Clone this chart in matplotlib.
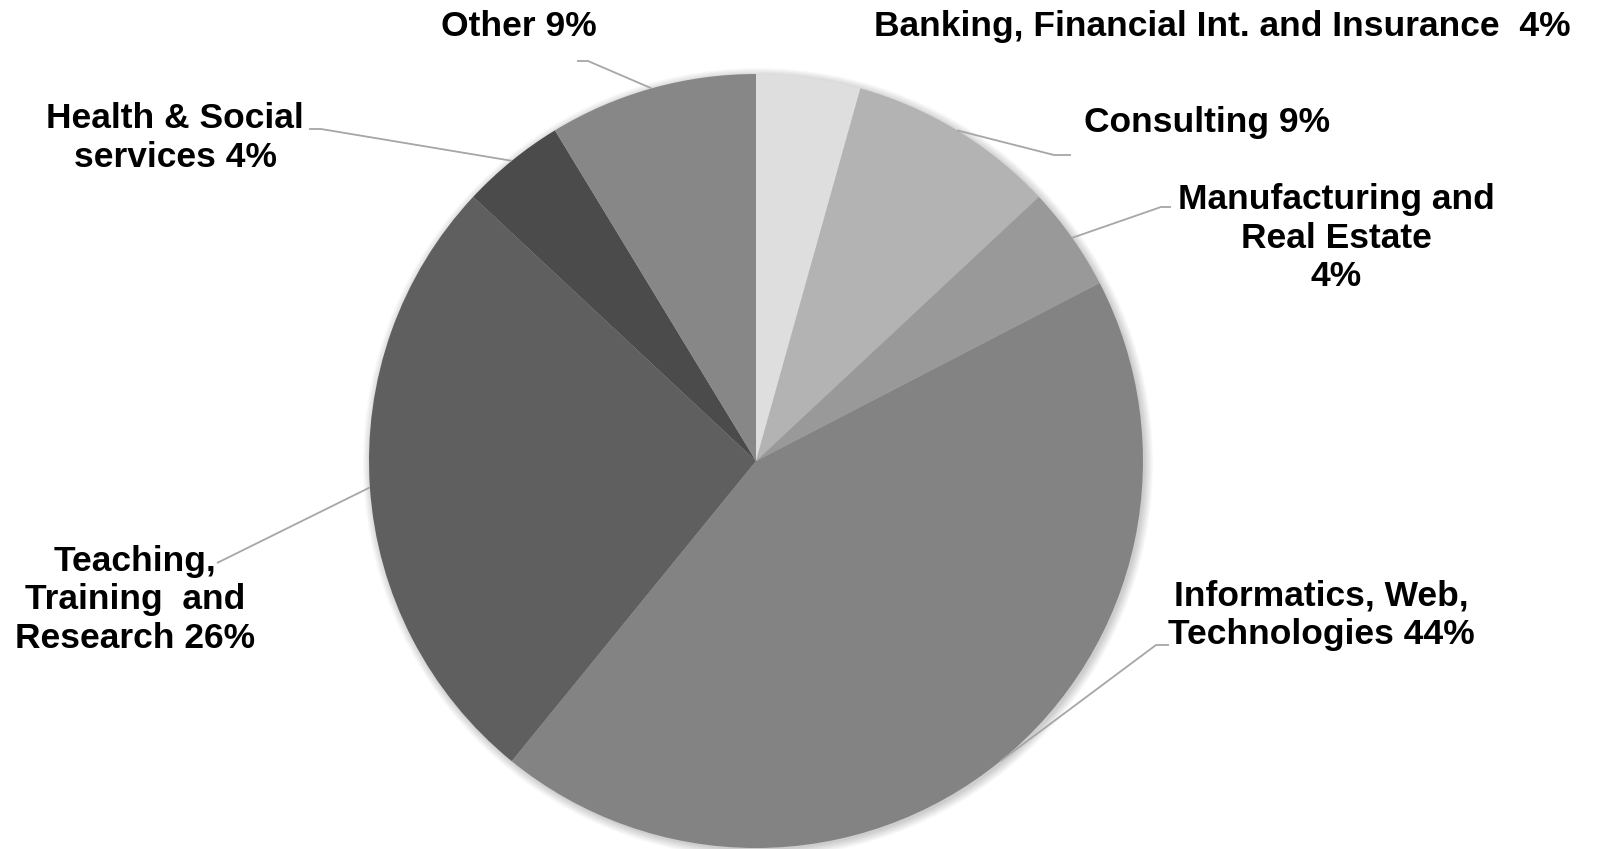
import numpy as np
import matplotlib
matplotlib.use("Agg")
import matplotlib.pyplot as plt
from matplotlib.patches import Circle

W, H = 1597, 849

# sector counts (clockwise from 12 o'clock) and the label text shown on the chart
sectors = ["Banking", "Consulting", "Manufacturing", "Informatics",
           "Teaching", "Health", "Other"]
counts = [1, 2, 1, 10, 6, 1, 2]
labels = ["Banking, Financial Int. and Insurance  4%",
          "Consulting 9%",
          "Manufacturing and\nReal Estate\n4%",
          "Informatics, Web,\nTechnologies 44%",
          "Teaching,\nTraining  and\nResearch 26%",
          "Health & Social\nservices 4%",
          "Other 9%"]
colors = ["#dedede", "#b3b3b3", "#999999", "#838383",
          "#5f5f5f", "#4b4b4b", "#878787"]

# label placement in pixels (x, y from top), leader elbows
label_pos = [(1222, 26), (1207, 122), (1336, 238), (1321, 615),
             (135, 600), (175, 138), (519, 26)]
elbows = [None,
          [(1054, 155), (1071, 155)],
          [(1161, 207), (1171, 207)],
          [(1156, 645), (1169, 645)],
          [(217, 563)],
          [(321, 129), (309, 129)],
          [(588, 61), (577, 61)]]

cx, cy, R = 756, H - 461, 387


def px(x, y):
    return x, H - y


fig = plt.figure(figsize=(W / 100, H / 100), dpi=100)
ax = fig.add_axes([0, 0, 1, 1])

# soft shadow round the pie
for i in range(10):
    ax.add_patch(Circle((cx + 2, cy - 2), R + i * 0.9, color="black",
                        alpha=0.018, lw=0, zorder=0))

wedges, _ = ax.pie(counts, colors=colors, startangle=90, counterclock=False,
                   center=(cx, cy), radius=R, wedgeprops=dict(linewidth=0))
for w in wedges:
    w.set_zorder(2)

for w, lab, pos, elb in zip(wedges, labels, label_pos, elbows):
    ax.text(*px(*pos), lab, ha="center", va="center", fontsize=25.5,
            fontweight="bold", family=["Liberation Sans", "DejaVu Sans"],
            linespacing=1.22, color="black", zorder=4)
    if elb is None:
        continue
    mid = np.deg2rad((w.theta1 + w.theta2) / 2)
    xs = [cx + R * np.cos(mid)] + [px(*p)[0] for p in elb]
    ys = [cy + R * np.sin(mid)] + [px(*p)[1] for p in elb]
    ax.plot(xs, ys, color="#a6a6a6", lw=1.3, zorder=3,
            solid_capstyle="butt")

ax.set_xlim(0, W)
ax.set_ylim(0, H)
ax.set_aspect("auto")
ax.axis("off")

fig.savefig("out.png", dpi=100, facecolor="white")
